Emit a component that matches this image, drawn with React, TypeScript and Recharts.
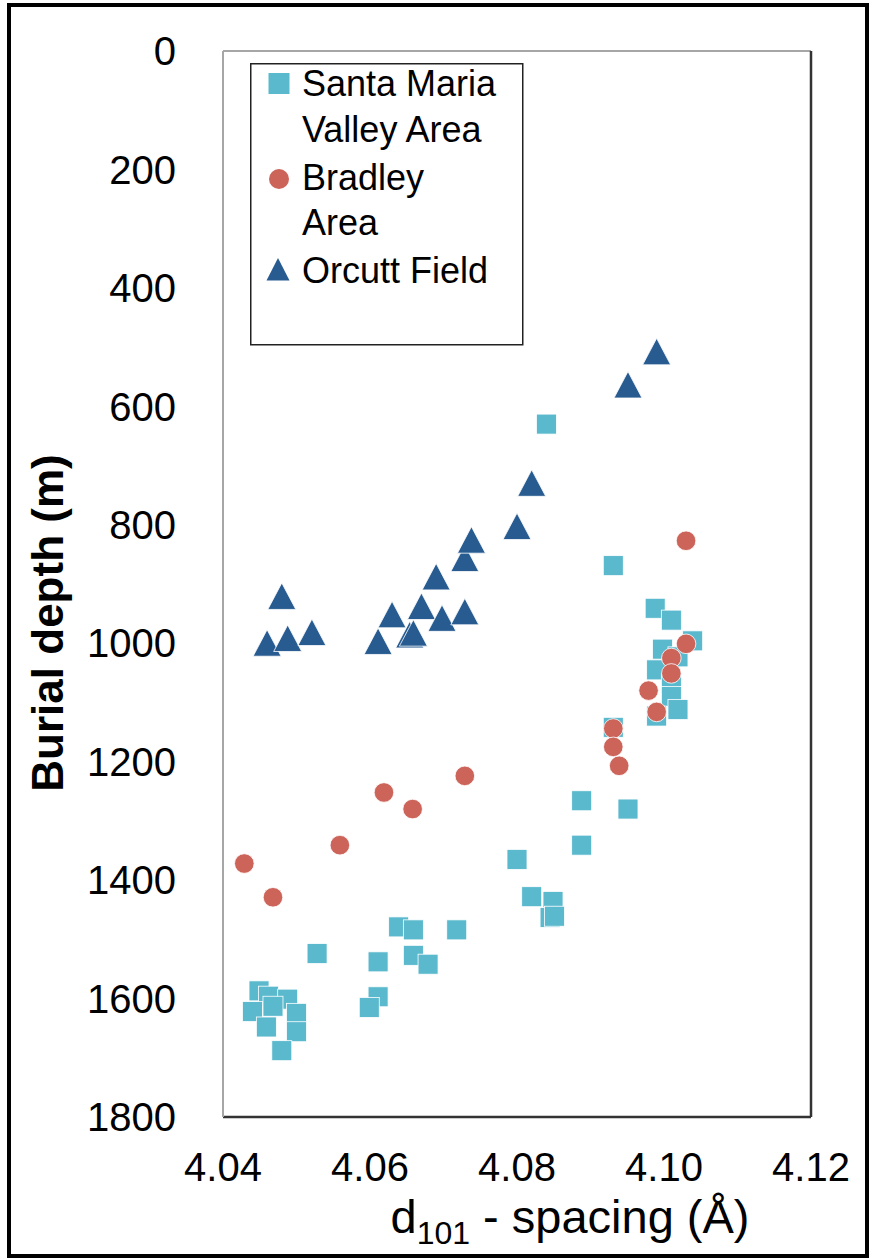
import React from 'react';
import { ScatterChart, Scatter, XAxis, YAxis, ReferenceLine, Legend } from 'recharts';

// d101-spacing (Å) vs burial depth (m)
const santaMaria = [
  { d: 4.084, depth: 630 },
  { d: 4.0931, depth: 869 },
  { d: 4.0988, depth: 941 },
  { d: 4.101, depth: 961 },
  { d: 4.1039, depth: 996 },
  { d: 4.0998, depth: 1010 },
  { d: 4.1019, depth: 1023 },
  { d: 4.099, depth: 1045 },
  { d: 4.101, depth: 1068 },
  { d: 4.101, depth: 1090 },
  { d: 4.1019, depth: 1112 },
  { d: 4.099, depth: 1123 },
  { d: 4.0931, depth: 1142 },
  { d: 4.0888, depth: 1266 },
  { d: 4.0951, depth: 1280 },
  { d: 4.0888, depth: 1341 },
  { d: 4.08, depth: 1365 },
  { d: 4.082, depth: 1428 },
  { d: 4.0849, depth: 1436 },
  { d: 4.0845, depth: 1463 },
  { d: 4.0851, depth: 1461 },
  { d: 4.0528, depth: 1524 },
  { d: 4.0611, depth: 1538 },
  { d: 4.0639, depth: 1479 },
  { d: 4.0659, depth: 1484 },
  { d: 4.0718, depth: 1484 },
  { d: 4.0659, depth: 1527 },
  { d: 4.0679, depth: 1542 },
  { d: 4.0611, depth: 1597 },
  { d: 4.0599, depth: 1615 },
  { d: 4.0449, depth: 1587 },
  { d: 4.0462, depth: 1596 },
  { d: 4.0488, depth: 1601 },
  { d: 4.044, depth: 1622 },
  { d: 4.0468, depth: 1613 },
  { d: 4.05, depth: 1625 },
  { d: 4.05, depth: 1656 },
  { d: 4.0459, depth: 1648 },
  { d: 4.048, depth: 1688 },
];

const bradley = [
  { d: 4.0729, depth: 1224 },
  { d: 4.0619, depth: 1252 },
  { d: 4.0658, depth: 1280 },
  { d: 4.0559, depth: 1341 },
  { d: 4.0429, depth: 1372 },
  { d: 4.0468, depth: 1429 },
  { d: 4.103, depth: 827 },
  { d: 4.103, depth: 1001 },
  { d: 4.101, depth: 1025 },
  { d: 4.101, depth: 1051 },
  { d: 4.0979, depth: 1080 },
  { d: 4.099, depth: 1116 },
  { d: 4.0931, depth: 1144 },
  { d: 4.0931, depth: 1175 },
  { d: 4.0939, depth: 1207 },
];

const orcutt = [
  { d: 4.048, depth: 921 },
  { d: 4.046, depth: 1000 },
  { d: 4.0488, depth: 992 },
  { d: 4.0521, depth: 982 },
  { d: 4.0611, depth: 997 },
  { d: 4.063, depth: 952 },
  { d: 4.0654, depth: 986 },
  { d: 4.0659, depth: 983 },
  { d: 4.067, depth: 938 },
  { d: 4.069, depth: 888 },
  { d: 4.0698, depth: 958 },
  { d: 4.0729, depth: 947 },
  { d: 4.0729, depth: 857 },
  { d: 4.0738, depth: 826 },
  { d: 4.08, depth: 803 },
  { d: 4.082, depth: 730 },
  { d: 4.0951, depth: 564 },
  { d: 4.099, depth: 508 },
];

const xTicks = [4.04, 4.06, 4.08, 4.1, 4.12];
const yTicks = [0, 200, 400, 600, 800, 1000, 1200, 1400, 1600, 1800];
const seriesNames = ['Santa Maria Valley Area', 'Bradley Area', 'Orcutt Field'];
const legendLines = [['Santa Maria', 'Valley Area'], ['Bradley', 'Area'], ['Orcutt Field']];

const COL_SQ = '#5BB9CE';
const COL_CI = '#CC645A';
const COL_TR = '#285C91';
const FONT = '"Liberation Sans", Arial, Helvetica, sans-serif';

const SquareShape = (p: any) => (
  <rect x={p.cx - 10} y={p.cy - 10} width={20} height={20} fill={COL_SQ} stroke="#ffffff" strokeWidth={0.8} />
);
const CircleShape = (p: any) => (
  <circle cx={p.cx} cy={p.cy} r={9.8} fill={COL_CI} stroke="#ffffff" strokeWidth={0.8} />
);
const TriangleShape = (p: any) => (
  <polygon
    points={`${p.cx},${p.cy - 13.5} ${p.cx - 14},${p.cy + 13} ${p.cx + 14},${p.cy + 13}`}
    fill={COL_TR}
    stroke="#ffffff"
    strokeWidth={0.8}
  />
);

const LegendBox = () => (
  <svg width={274} height={283} style={{ display: 'block' }}>
    <rect x={0.75} y={0.75} width={272} height={281} fill="#fff" stroke="#222" strokeWidth={1.5} />
    <rect x={18.5} y={10} width={21} height={21} fill={COL_SQ} />
    <text x={52} y={33} fontSize={36} fontFamily={FONT} fill="#000">{legendLines[0][0]}</text>
    <text x={52} y={79} fontSize={36} fontFamily={FONT} fill="#000">{legendLines[0][1]}</text>
    <circle cx={29} cy={116} r={10} fill={COL_CI} />
    <text x={52} y={127} fontSize={36} fontFamily={FONT} fill="#000">{legendLines[1][0]}</text>
    <text x={52} y={172} fontSize={36} fontFamily={FONT} fill="#000">{legendLines[1][1]}</text>
    <polygon points="28,195 16.5,217.5 39.5,217.5" fill={COL_TR} />
    <text x={52} y={220} fontSize={36} fontFamily={FONT} fill="#000">{legendLines[2][0]}</text>
  </svg>
);

const YTitle = (props: any) => {
  const vb = props.viewBox || { x: 0, y: 51, width: 223, height: 1066 };
  const cx = vb.x + 47;
  const cy = vb.y + vb.height / 2 + 39;
  return (
    <text
      x={cx}
      y={cy}
      transform={`rotate(-90, ${cx}, ${cy})`}
      textAnchor="middle"
      dominantBaseline="central"
      fontSize={44}
      fontWeight="bold"
      fontFamily={FONT}
      fill="#000"
    >
      Burial depth (m)
    </text>
  );
};

const XTitle = (props: any) => {
  const vb = props.viewBox || { x: 223, y: 1117, width: 588, height: 141 };
  const cx = vb.x + vb.width / 2 + 53;
  const y = vb.y + 116;
  return (
    <text x={cx} y={y} textAnchor="middle" fontSize={47} fontFamily={FONT} fill="#000">
      <tspan>d</tspan>
      <tspan fontSize={32} dy={11}>101</tspan>
      <tspan dy={-11}> - spacing (Å)</tspan>
    </text>
  );
};

export default function App() {
  return (
    <div
      style={{
        position: 'absolute',
        left: 0,
        top: 0,
        width: 869,
        height: 1258,
        background: '#fff',
      }}
    >
      <div
        style={{
          position: 'absolute',
          left: 7,
          top: 3,
          width: 862,
          height: 1255,
          border: '4px solid #000',
          boxSizing: 'border-box',
          pointerEvents: 'none',
          zIndex: 2,
        }}
      />
      <ScatterChart width={869} height={1258} margin={{ top: 51, right: 58, bottom: 0, left: 0 }}>
        <XAxis
          type="number"
          dataKey="d"
          domain={[4.04, 4.12]}
          ticks={xTicks}
          allowDataOverflow
          tickFormatter={(v: number) => v.toFixed(2)}
          axisLine={{ stroke: '#333', strokeWidth: 2.5 }}
          tickLine={false}
          tickSize={0}
          tickMargin={36}
          height={141}
          tick={{ fontSize: 40, fill: '#000', fontFamily: FONT }}
          label={{ content: XTitle }}
        />
        <YAxis
          type="number"
          dataKey="depth"
          domain={[0, 1800]}
          ticks={yTicks}
          reversed
          allowDataOverflow
          width={223}
          axisLine={{ stroke: '#A6A6A6', strokeWidth: 2 }}
          tickLine={false}
          tickSize={0}
          tickMargin={47}
          tick={{ fontSize: 40, fill: '#000', fontFamily: FONT }}
          label={{ content: YTitle }}
        />
        <ReferenceLine y={0} stroke="#A6A6A6" strokeWidth={2} />
        <ReferenceLine x={4.12} stroke="#333" strokeWidth={2.5} />
        <Legend
          layout="vertical"
          align="center"
          verticalAlign="middle"
          content={() => <LegendBox />}
          wrapperStyle={{ position: 'absolute', left: 250, top: 63, width: 274, height: 283 }}
        />
        <Scatter name={seriesNames[0]} data={santaMaria} shape={SquareShape} isAnimationActive={false} />
        <Scatter name={seriesNames[1]} data={bradley} shape={CircleShape} isAnimationActive={false} />
        <Scatter name={seriesNames[2]} data={orcutt} shape={TriangleShape} isAnimationActive={false} />
      </ScatterChart>
    </div>
  );
}
